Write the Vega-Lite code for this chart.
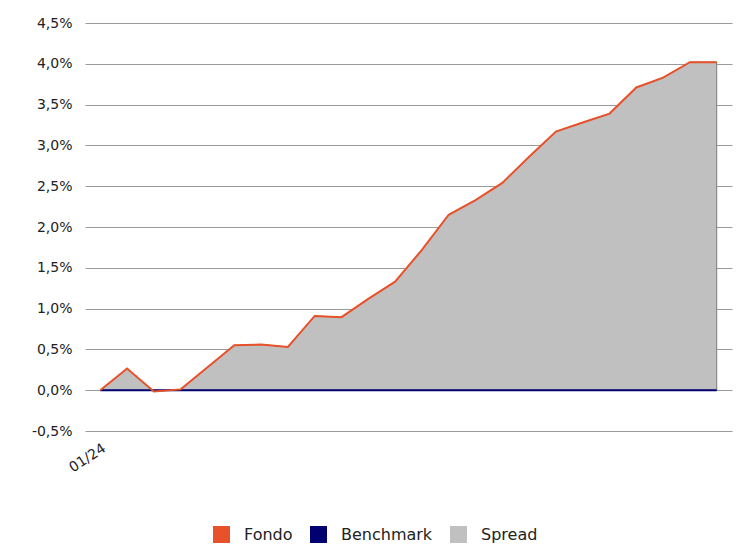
{
  "$schema": "https://vega.github.io/schema/vega-lite/v6.json",
  "width": 647,
  "height": 408,
  "autosize": "none",
  "padding": {"left": 85, "top": 23, "right": 11, "bottom": 113},
  "background": "white",
  "config": {
    "view": {"stroke": null},
    "axis": {"labelFont": "DejaVu Sans", "labelColor": "#222", "titleFont": "DejaVu Sans"},
    "legend": {"labelFont": "DejaVu Sans"}
  },
  "data": {
    "values": [
      {"giorno": 1, "serie": "Fondo", "valore": 0},
      {"giorno": 2, "serie": "Fondo", "valore": 0.265},
      {"giorno": 3, "serie": "Fondo", "valore": -0.017},
      {"giorno": 4, "serie": "Fondo", "valore": 0.01},
      {"giorno": 5, "serie": "Fondo", "valore": 0.28},
      {"giorno": 6, "serie": "Fondo", "valore": 0.55},
      {"giorno": 7, "serie": "Fondo", "valore": 0.56},
      {"giorno": 8, "serie": "Fondo", "valore": 0.53},
      {"giorno": 9, "serie": "Fondo", "valore": 0.91},
      {"giorno": 10, "serie": "Fondo", "valore": 0.895},
      {"giorno": 11, "serie": "Fondo", "valore": 1.12},
      {"giorno": 12, "serie": "Fondo", "valore": 1.33},
      {"giorno": 13, "serie": "Fondo", "valore": 1.72},
      {"giorno": 14, "serie": "Fondo", "valore": 2.15},
      {"giorno": 15, "serie": "Fondo", "valore": 2.33},
      {"giorno": 16, "serie": "Fondo", "valore": 2.54},
      {"giorno": 17, "serie": "Fondo", "valore": 2.86},
      {"giorno": 18, "serie": "Fondo", "valore": 3.17},
      {"giorno": 19, "serie": "Fondo", "valore": 3.28},
      {"giorno": 20, "serie": "Fondo", "valore": 3.39},
      {"giorno": 21, "serie": "Fondo", "valore": 3.71},
      {"giorno": 22, "serie": "Fondo", "valore": 3.83},
      {"giorno": 23, "serie": "Fondo", "valore": 4.02},
      {"giorno": 24, "serie": "Fondo", "valore": 4.02},
      {"giorno": 1, "serie": "Benchmark", "valore": 0},
      {"giorno": 2, "serie": "Benchmark", "valore": 0},
      {"giorno": 3, "serie": "Benchmark", "valore": 0},
      {"giorno": 4, "serie": "Benchmark", "valore": 0},
      {"giorno": 5, "serie": "Benchmark", "valore": 0},
      {"giorno": 6, "serie": "Benchmark", "valore": 0},
      {"giorno": 7, "serie": "Benchmark", "valore": 0},
      {"giorno": 8, "serie": "Benchmark", "valore": 0},
      {"giorno": 9, "serie": "Benchmark", "valore": 0},
      {"giorno": 10, "serie": "Benchmark", "valore": 0},
      {"giorno": 11, "serie": "Benchmark", "valore": 0},
      {"giorno": 12, "serie": "Benchmark", "valore": 0},
      {"giorno": 13, "serie": "Benchmark", "valore": 0},
      {"giorno": 14, "serie": "Benchmark", "valore": 0},
      {"giorno": 15, "serie": "Benchmark", "valore": 0},
      {"giorno": 16, "serie": "Benchmark", "valore": 0},
      {"giorno": 17, "serie": "Benchmark", "valore": 0},
      {"giorno": 18, "serie": "Benchmark", "valore": 0},
      {"giorno": 19, "serie": "Benchmark", "valore": 0},
      {"giorno": 20, "serie": "Benchmark", "valore": 0},
      {"giorno": 21, "serie": "Benchmark", "valore": 0},
      {"giorno": 22, "serie": "Benchmark", "valore": 0},
      {"giorno": 23, "serie": "Benchmark", "valore": 0},
      {"giorno": 24, "serie": "Benchmark", "valore": 0},
      {"giorno": 1, "serie": "Spread", "valore": 0},
      {"giorno": 2, "serie": "Spread", "valore": 0.265},
      {"giorno": 3, "serie": "Spread", "valore": -0.017},
      {"giorno": 4, "serie": "Spread", "valore": 0.01},
      {"giorno": 5, "serie": "Spread", "valore": 0.28},
      {"giorno": 6, "serie": "Spread", "valore": 0.55},
      {"giorno": 7, "serie": "Spread", "valore": 0.56},
      {"giorno": 8, "serie": "Spread", "valore": 0.53},
      {"giorno": 9, "serie": "Spread", "valore": 0.91},
      {"giorno": 10, "serie": "Spread", "valore": 0.895},
      {"giorno": 11, "serie": "Spread", "valore": 1.12},
      {"giorno": 12, "serie": "Spread", "valore": 1.33},
      {"giorno": 13, "serie": "Spread", "valore": 1.72},
      {"giorno": 14, "serie": "Spread", "valore": 2.15},
      {"giorno": 15, "serie": "Spread", "valore": 2.33},
      {"giorno": 16, "serie": "Spread", "valore": 2.54},
      {"giorno": 17, "serie": "Spread", "valore": 2.86},
      {"giorno": 18, "serie": "Spread", "valore": 3.17},
      {"giorno": 19, "serie": "Spread", "valore": 3.28},
      {"giorno": 20, "serie": "Spread", "valore": 3.39},
      {"giorno": 21, "serie": "Spread", "valore": 3.71},
      {"giorno": 22, "serie": "Spread", "valore": 3.83},
      {"giorno": 23, "serie": "Spread", "valore": 4.02},
      {"giorno": 24, "serie": "Spread", "valore": 4.02}
    ]
  },
  "encoding": {
    "x": {
      "field": "giorno",
      "type": "ordinal",
      "scale": {"type": "point", "padding": 0.57},
      "axis": {
        "title": null,
        "domain": false,
        "ticks": false,
        "grid": false,
        "labelAngle": -33,
        "labelAlign": "right",
        "labelBaseline": "top",
        "labelPadding": 10,
        "labelFontSize": 14,
        "labelExpr": "datum.value == 1 ? '01/24' : ''"
      }
    },
    "y": {
      "field": "valore",
      "type": "quantitative",
      "scale": {"domain": [-0.5, 4.5], "nice": false, "zero": false},
      "axis": {
        "title": null,
        "domain": false,
        "ticks": false,
        "values": [-0.5, 0, 0.5, 1, 1.5, 2, 2.5, 3, 3.5, 4, 4.5],
        "labelExpr": "(datum.value < 0 ? '-' : '') + replace(format(abs(datum.value), '.1f'), '.', ',') + '%'",
        "labelFontSize": 14,
        "labelPadding": 13,
        "gridColor": "#9a9a9a",
        "gridWidth": 1.2,
        "gridOpacity": 1
      }
    },
    "color": {
      "field": "serie",
      "type": "nominal",
      "scale": {"domain": ["Fondo", "Benchmark", "Spread"], "range": ["#E8522A", "#000070", "#C0C0C0"]},
      "legend": {
        "title": null,
        "orient": "none",
        "direction": "horizontal",
        "legendX": 128,
        "legendY": 503,
        "symbolType": "square",
        "symbolSize": 289,
        "symbolStrokeWidth": 0,
        "symbolOpacity": 1,
        "labelFontSize": 16,
        "labelColor": "#222",
        "labelOffset": 14,
        "columnPadding": 17
      }
    }
  },
  "layer": [
    {
      "transform": [{"filter": "datum.serie == 'Spread'"}],
      "mark": {"type": "area", "opacity": 1, "stroke": "#7a7a7a", "strokeWidth": 1}
    },
    {
      "transform": [{"filter": "datum.serie == 'Benchmark'"}],
      "mark": {"type": "line", "strokeWidth": 2}
    },
    {
      "transform": [{"filter": "datum.serie == 'Fondo'"}],
      "mark": {"type": "line", "strokeWidth": 2, "color": "#E0603A"}
    }
  ]
}
